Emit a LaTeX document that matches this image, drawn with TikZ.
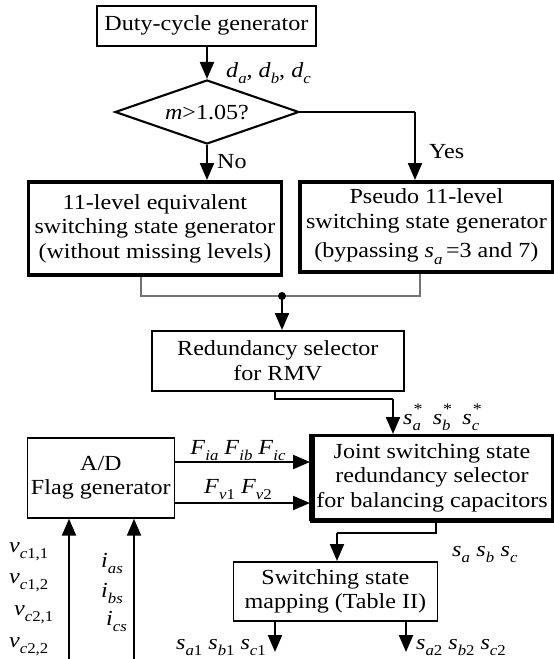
\documentclass[tikz,border=0pt]{standalone}
\usepackage{fontspec}
\setmainfont{Liberation Serif}[FakeStretch=1.12]
\usetikzlibrary{arrows.meta,shapes.geometric}

% lowered index text for variable names
\newcommand\lo[1]{\raisebox{-0.32em}{\fontsize{15}{15}\selectfont #1}}
% starred variable with lowered index
\newcommand\starred[1]{\textit{s}\makebox[0pt][l]{\raisebox{0.45em}{\hspace{0.05em}\fontsize{16}{16}\selectfont *}}\lo{\textit{#1}}}

\tikzset{
  base/.style={font=\fontsize{21.5}{24.5}\selectfont},
  box/.style={base, draw, line width=1.7pt, align=center, inner sep=0pt, anchor=north west},
  thickbox/.style={box, line width=3.8pt},
  flow/.style={line width=2.1pt},
  conn/.style={line width=2.1pt, -{Triangle[length=17pt,width=14pt]}},
  merge/.style={line width=1.1pt, draw=black!55},
  lbl/.style={base, inner sep=0pt}
}

\begin{document}
\begin{tikzpicture}[x=1pt,y=-1pt]
\useasboundingbox (0,0) rectangle (554,659);

% blocks
\node[box, minimum width=219pt, minimum height=40pt] (duty) at (96,5) {Duty-cycle generator};
\node[base, diamond, draw, line width=2.1pt, aspect=2.9, inner sep=0pt,
      minimum width=184pt, minimum height=64pt] (dec) at (207,112) {\textit{m}>1.05?};
\node[thickbox, minimum width=253pt, minimum height=93pt] (lgen) at (26.5,180)
  {11-level equivalent\\switching state generator\\(without missing levels)};
\node[thickbox, minimum width=253pt, minimum height=90pt] (rgen) at (298,180)
  {Pseudo 11-level\\switching state generator\\[5pt](bypassing \textit{s}\lo{\textit{a}}\,=3 and 7)};
\node[box, minimum width=252pt, minimum height=60pt] (rmv) at (151,330)
  {Redundancy selector\\for RMV};
\node[box, minimum width=147pt, minimum height=80pt] (flag) at (26.5,437)
  {A/D\\Flag generator};
\node[box, line width=3pt, minimum width=241pt, minimum height=84pt] (joint) at (310,434)
  {Joint switching state\\redundancy selector\\for balancing capacitors};
\draw[line width=6pt] ([xshift=2pt]joint.north west) -- ([xshift=2pt]joint.south west);
\draw[line width=2pt] ([yshift=-1pt]joint.south west) -- ([yshift=-1pt]joint.south east);
\node[box, minimum width=204pt, minimum height=59pt] (map) at (232.5,561)
  {Switching state\\mapping (Table II)};

% route points
\coordinate (yesc) at (415,112);
\coordinate (ml) at (141,296);
\coordinate (mr) at (420,296);
\coordinate (dot) at (282,296);
\coordinate (r1) at (275,399);
\coordinate (r2) at (393,399);
\coordinate (j1) at (436,533);
\coordinate (j2) at (337,533);
\coordinate (o1) at (275,652);
\coordinate (o2) at (406,652);
\coordinate (in1) at (69,659);
\coordinate (in2) at (134,659);
\coordinate (fa) at (0,462);
\coordinate (fb) at (0,503);

% connectors
\draw[conn] (duty.south -| dec.north) -- (dec.north);
\draw[conn] (dec.south) -- (dec.south |- lgen.north);
\draw[flow] (dec.east) -- (yesc);
\draw[conn] (yesc) -- (yesc |- rgen.north);
\draw[merge] (lgen.south -| ml) -- (ml) -- (mr) -- (rgen.south -| mr);
\fill (dot) circle (4pt);
\draw[conn] (dot) -- (dot |- rmv.north);
\draw[flow] (rmv.south -| r1) -- (r1) -- (r2);
\draw[conn] (r2) -- (r2 |- joint.north);
\draw[conn] (flag.east |- fa) -- (joint.west |- fa);
\draw[conn] (flag.east |- fb) -- (joint.west |- fb);
\draw[flow] (joint.south -| j1) -- (j1) -- (j2);
\draw[conn] (j2) -- (j2 |- map.north);
\draw[conn] (map.south -| o1) -- (o1);
\draw[conn] (map.south -| o2) -- (o2);
\draw[conn] (in1) -- (in1 |- flag.south);
\draw[conn] (in2) -- (in2 |- flag.south);

% labels
\node[lbl, anchor=base west] (ld) at (226,77) {\textit{d}\lo{\textit{a}}, \textit{d}\lo{\textit{b}}, \textit{d}\lo{\textit{c}}};
\node[lbl, anchor=base west] (lyes) at (429,158) {Yes};
\node[lbl, anchor=base west] (lno) at (217,168) {No};
\node[lbl, anchor=base west] (lstar) at (403,424) {\starred{a}\hspace{0.55em}\starred{b}\hspace{0.55em}\starred{c}};
\node[lbl, anchor=base] (lfi) at (238,454) {\textit{F}\lo{\textit{ia}} \textit{F}\lo{\textit{ib}} \textit{F}\lo{\textit{ic}}};
\node[lbl, anchor=base] (lfv) at (238,493) {\textit{F}\lo{\textit{v}1} \textit{F}\lo{\textit{v}2}};
\node[lbl, anchor=base west] (ls) at (452,556) {\textit{s}\lo{\textit{a}}\hspace{0.3em}\textit{s}\lo{\textit{b}}\hspace{0.3em}\textit{s}\lo{\textit{c}}};
\node[lbl, anchor=base east] (lo1) at (266,649) {\textit{s}\lo{\textit{a}1} \textit{s}\lo{\textit{b}1} \textit{s}\lo{\textit{c}1}};
\node[lbl, anchor=base west] (lo2) at (416,649) {\textit{s}\lo{\textit{a}2} \textit{s}\lo{\textit{b}2} \textit{s}\lo{\textit{c}2}};
\node[lbl, anchor=base west] (v11) at (9,552) {\textit{v}\lo{\textit{c}1,1}};
\node[lbl, anchor=base west] (v12) at (9,583) {\textit{v}\lo{\textit{c}1,2}};
\node[lbl, anchor=base west] (v21) at (14,615) {\textit{v}\lo{\textit{c}2,1}};
\node[lbl, anchor=base west] (v22) at (9,647) {\textit{v}\lo{\textit{c}2,2}};
\node[lbl, anchor=base west] (ia) at (101,567) {\textit{i}\lo{\textit{as}}};
\node[lbl, anchor=base west] (ib) at (101,597) {\textit{i}\lo{\textit{bs}}};
\node[lbl, anchor=base west] (ic) at (106,625) {\textit{i}\lo{\textit{cs}}};
\end{tikzpicture}
\end{document}
